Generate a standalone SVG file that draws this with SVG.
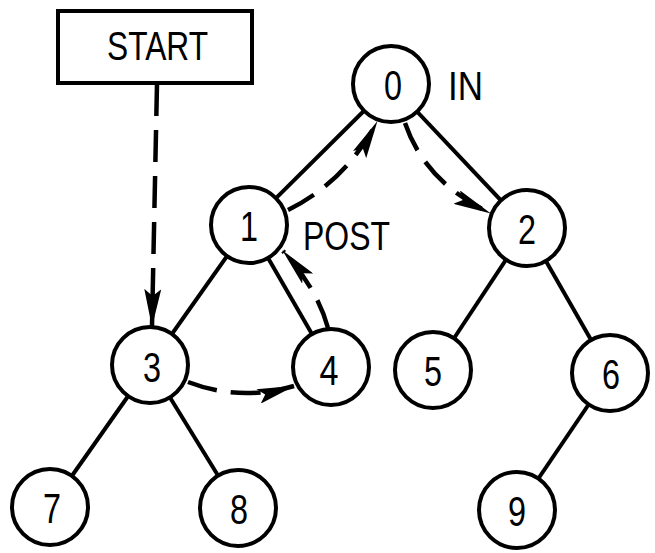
<svg xmlns="http://www.w3.org/2000/svg" width="655" height="553" viewBox="0 0 655 553">
<style>
.edge{stroke:#000;stroke-width:4;fill:none}
.dash{stroke:#000;stroke-width:4.5;fill:none;stroke-dasharray:30 14}
.node circle{fill:#fff;stroke:#000;stroke-width:4}
.box{fill:#fff;stroke:#000;stroke-width:4}
text{font-family:"Liberation Sans",Arial,sans-serif;fill:#000}
.num{font-size:43px;text-anchor:middle}
.lbl{font-size:41px}
</style>
<defs>
<marker id="ah" viewBox="0 0 38 15" refX="37" refY="7.5" markerWidth="38" markerHeight="15" markerUnits="userSpaceOnUse" orient="auto">
<path d="M0,0 L38,7.5 L0,15 L7,7.5 z" fill="#000"/>
</marker>
<marker id="ahs" viewBox="0 0 38 17" refX="37" refY="8.5" markerWidth="38" markerHeight="17" markerUnits="userSpaceOnUse" orient="auto">
<path d="M0,0 L38,8.5 L0,17 L7,8.5 z" fill="#000"/>
</marker>
</defs>
<g id="connectors">
<line class="edge" x1="391" y1="84" x2="249" y2="225"/>
<line class="edge" x1="391" y1="84" x2="527" y2="228"/>
<line class="edge" x1="249" y1="225" x2="150" y2="365"/>
<line class="edge" x1="249" y1="225" x2="331" y2="367"/>
<line class="edge" x1="527" y1="228" x2="433" y2="370"/>
<line class="edge" x1="527" y1="228" x2="610" y2="373"/>
<line class="edge" x1="150" y1="365" x2="50" y2="507"/>
<line class="edge" x1="150" y1="365" x2="238" y2="508"/>
<line class="edge" x1="610" y1="373" x2="517" y2="510"/>
<path class="dash" style="stroke-dasharray:32 14" d="M157,84 L152,326" marker-end="url(#ahs)"/>
<path class="dash" d="M288,210 Q345,182 377,122" marker-end="url(#ah)"/>
<path class="dash" d="M405,123 Q425,182 490,213" marker-end="url(#ah)"/>
<path class="dash" d="M328,328 Q318,290 283,251" marker-end="url(#ah)"/>
<path class="dash" d="M188,382 Q240,402 294,386" marker-end="url(#ah)"/>
</g>
<g id="start">
<rect class="box" x="58" y="11" width="194" height="72"/>
<text class="lbl" x="107" y="60" textLength="101" lengthAdjust="spacingAndGlyphs">START</text>
</g>
<g id="node0" class="node"><circle cx="391" cy="84" r="38"/><text class="num" x="393" y="100" textLength="18" lengthAdjust="spacingAndGlyphs">0</text></g>
<g id="node1" class="node"><circle cx="249" cy="225" r="38"/><text class="num" x="249" y="241" textLength="18" lengthAdjust="spacingAndGlyphs">1</text></g>
<g id="node2" class="node"><circle cx="527" cy="228" r="38"/><text class="num" x="527" y="244" textLength="18" lengthAdjust="spacingAndGlyphs">2</text></g>
<g id="node3" class="node"><circle cx="150" cy="365" r="38"/><text class="num" x="152" y="382" textLength="18" lengthAdjust="spacingAndGlyphs">3</text></g>
<g id="node4" class="node"><circle cx="331" cy="367" r="38"/><text class="num" x="329" y="385" textLength="19" lengthAdjust="spacingAndGlyphs">4</text></g>
<g id="node5" class="node"><circle cx="433" cy="370" r="38"/><text class="num" x="433" y="386" textLength="18" lengthAdjust="spacingAndGlyphs">5</text></g>
<g id="node6" class="node"><circle cx="610" cy="373" r="38"/><text class="num" x="611" y="389" textLength="18" lengthAdjust="spacingAndGlyphs">6</text></g>
<g id="node7" class="node"><circle cx="50" cy="507" r="38"/><text class="num" x="52" y="523" textLength="18" lengthAdjust="spacingAndGlyphs">7</text></g>
<g id="node8" class="node"><circle cx="238" cy="508" r="38"/><text class="num" x="239" y="524" textLength="18" lengthAdjust="spacingAndGlyphs">8</text></g>
<g id="node9" class="node"><circle cx="517" cy="510" r="38"/><text class="num" x="517" y="526" textLength="18" lengthAdjust="spacingAndGlyphs">9</text></g>
<g id="labels">
<text class="lbl" x="448" y="100" textLength="35" lengthAdjust="spacingAndGlyphs">IN</text>
<text class="lbl" x="303" y="250" textLength="87" lengthAdjust="spacingAndGlyphs">POST</text>
</g>
</svg>
